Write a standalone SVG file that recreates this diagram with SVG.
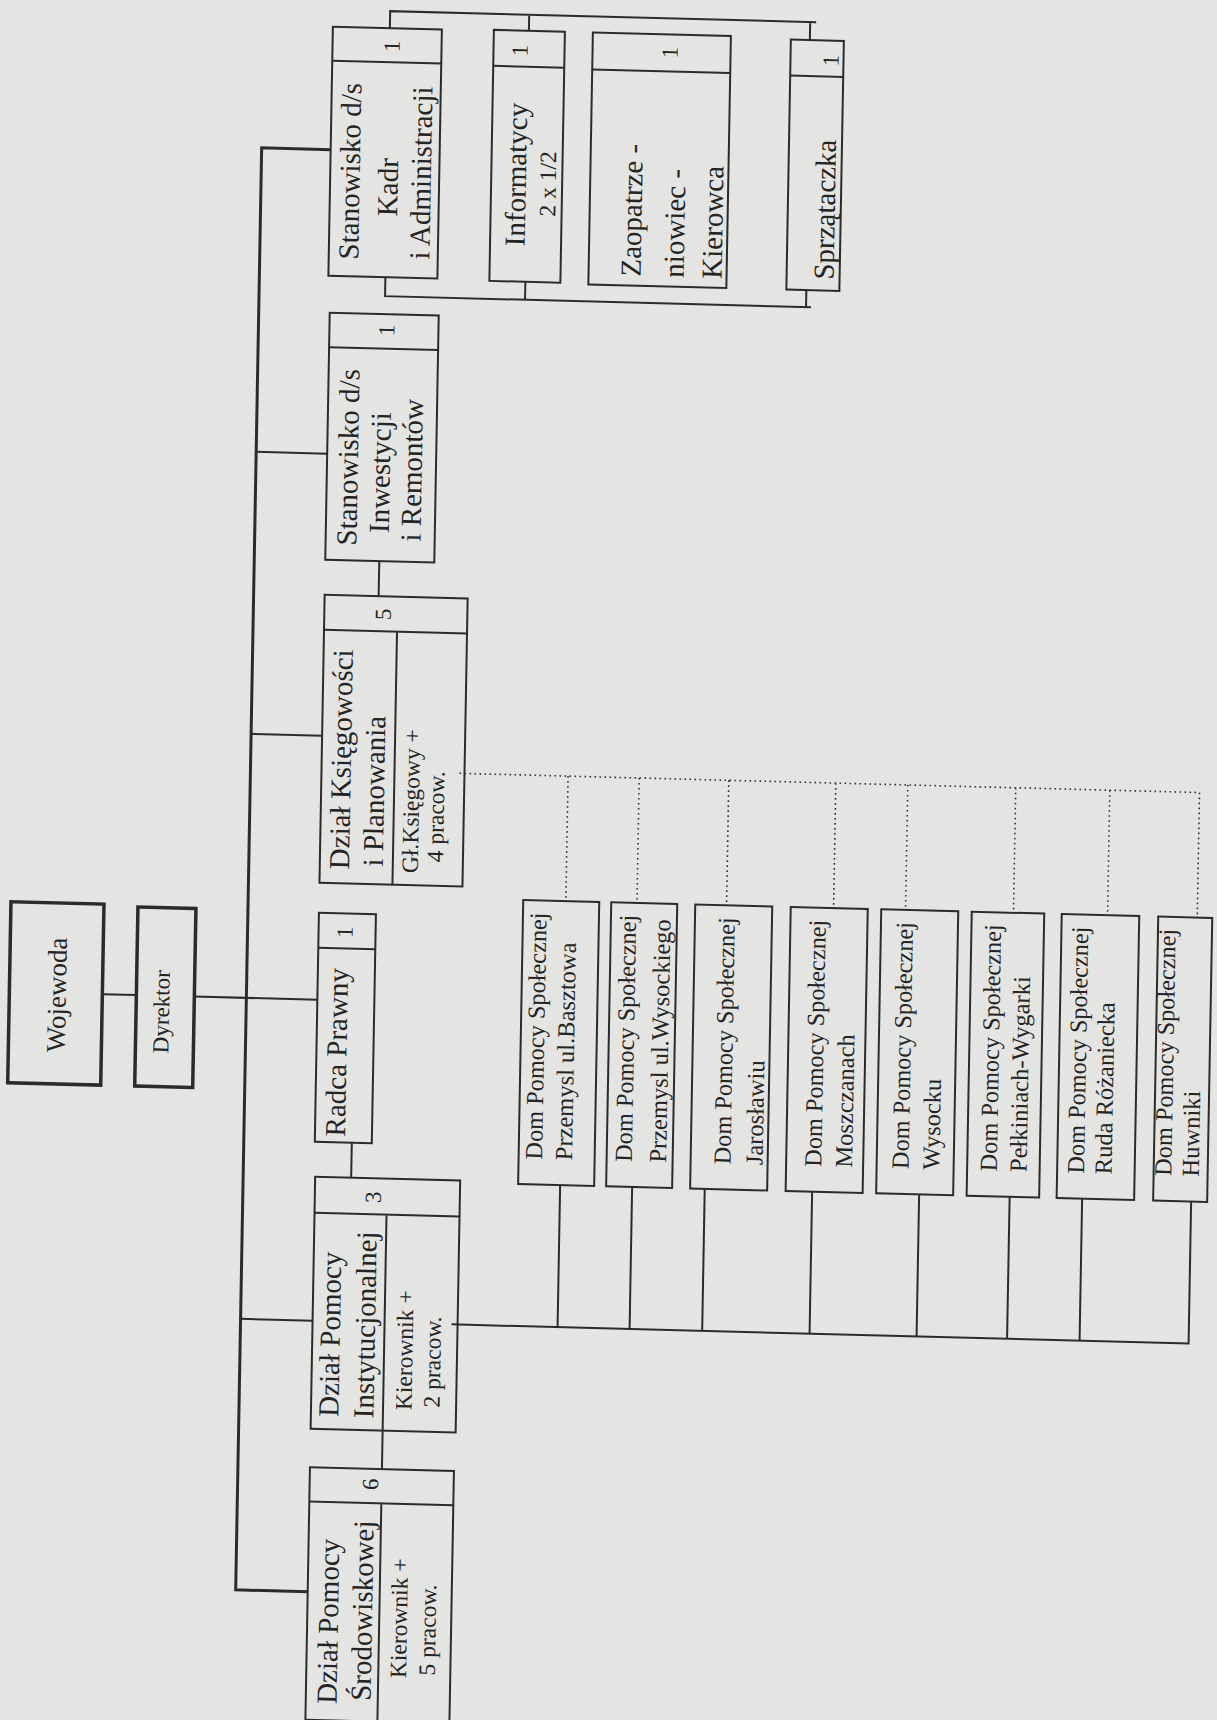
<svg xmlns="http://www.w3.org/2000/svg" width="1217" height="1720" viewBox="0 0 1217 1720">
<style>
.box{fill:none;stroke:#2b2b2b;stroke-width:2}
.thick{stroke-width:3.5}
.ln{fill:none;stroke:#2b2b2b;stroke-width:2}
.spine{stroke-width:3}
.dot{fill:none;stroke:#333;stroke-width:1.6;stroke-dasharray:1.6 3.4}
text{font-family:"Liberation Serif","DejaVu Serif",serif;fill:#242424}
.n{font-size:29px}
.s{font-size:23.5px}
.c{font-size:23px}
.d{font-size:24.5px}
.m{text-anchor:middle}
</style>
<rect width="1217" height="1720" fill="#e4e4e2"/>
<g transform="matrix(1 0.026 -0.018 1 15.48 -15.6)">
<g id="connectors">
<path class="ln" d="M105 1007H139M197 1007H320"/>
<path class="ln spine" d="M318 157H249V1599H321"/>
<path class="ln" d="M249 461H320M249 743H320M249 1328H321M460 1328H1197V1186"/>
<path class="ln" d="M357 1149V1184M374 567V602M393 1436V1474.5"/>
<path class="ln" d="M375 34V17H801M514 17V33M795 17V35"/>
<path class="ln" d="M375 283V302H801M515 284V302M796 285V302"/>
<path class="ln" d="M566 1328V1186M638 1328V1186M710.6 1328V1186M818 1328V1186M925 1328V1186M1015.5 1328V1186M1088 1328V1186"/>
<path class="dot" d="M458 777H1198V902M566.6 777V902M637.7 777V902M727.3 777V902M834.3 777V902M906.3 777V902M1014.2 777V902M1108.3 777V902"/>
</g>
<g id="wojewoda">
<rect class="box thick" x="12" y="917" width="93" height="181"/>
<text class="m" font-size="27" transform="translate(68.5,1009) rotate(-90)">Wojewoda</text>
</g>
<g id="dyrektor">
<rect class="box thick" x="139" y="919" width="58" height="179"/>
<text class="m" font-size="23" transform="translate(172,1023) rotate(-90)">Dyrektor</text>
</g>
<g id="radca">
<rect class="box" x="320" y="920" width="57" height="229"/>
<path class="ln" d="M320 955H377"/>
<text class="c m" transform="translate(354,939) rotate(-90)">1</text>
<text class="n m" transform="translate(350,1059) rotate(-90)">Radca Prawny</text>
</g>
<g id="kadry">
<rect class="box" x="318" y="34" width="109" height="249"/>
<path class="ln" d="M318 68H427"/>
<text class="c m" transform="translate(385,52) rotate(-90)">1</text>
<text class="n m" transform="translate(347.5,178) rotate(-90)">Stanowisko d/s</text>
<text class="n m" transform="translate(385.6,193) rotate(-90)">Kadr</text>
<text class="n m" transform="translate(418.6,178) rotate(-90)">i Administracji</text>
</g>
<g id="informatycy">
<rect class="box" x="479" y="33" width="71" height="251"/>
<path class="ln" d="M479 69H550"/>
<text class="c m" transform="translate(513,53) rotate(-90)">1</text>
<text class="n m" transform="translate(513.6,177) rotate(-90)">Informatycy</text>
<text class="s m" transform="translate(543.6,185.5) rotate(-90)">2 x 1/2</text>
</g>
<g id="zaopatrzeniowiec">
<rect class="box" x="578" y="33" width="138" height="252"/>
<path class="ln" d="M578 70H716"/>
<text class="c m" transform="translate(663,51) rotate(-90)">1</text>
<text class="n" transform="translate(630,276) rotate(-90)">Zaopatrze -</text>
<text class="n" transform="translate(673,276) rotate(-90)">niowiec -</text>
<text class="n" transform="translate(711,276) rotate(-90)">Kierowca</text>
</g>
<g id="sprzataczka">
<rect class="box" x="776" y="35" width="53" height="250"/>
<path class="ln" d="M776 71H829"/>
<text class="c m" transform="translate(824,55) rotate(-90)">1</text>
<text class="n" transform="translate(823,274) rotate(-90)">Sprzątaczka</text>
</g>
<g id="inwestycje">
<rect class="box" x="320" y="320" width="109" height="247"/>
<path class="ln" d="M320 354.5H429"/>
<text class="c m" transform="translate(385,336) rotate(-90)">1</text>
<text class="n m" transform="translate(350.8,464) rotate(-90)">Stanowisko d/s</text>
<text class="n m" transform="translate(383,478.5) rotate(-90)">Inwestycji</text>
<text class="n m" transform="translate(414.8,475.3) rotate(-90)">i Remontów</text>
</g>
<g id="ksiegowosc">
<rect class="box" x="320" y="602" width="143" height="288"/>
<path class="ln" d="M320 637H463M393 637V890"/>
<text class="c m" transform="translate(386.5,620) rotate(-90)">5</text>
<text class="n m" transform="translate(349.2,766) rotate(-90)">Dział Księgowości</text>
<text class="n m" transform="translate(383,797) rotate(-90)">i Planowania</text>
<text class="s m" transform="translate(418,806) rotate(-90)">Gł.Księgowy +</text>
<text class="s m" transform="translate(443,821) rotate(-90)">4 pracow.</text>
</g>
<g id="instytucjonalna">
<rect class="box" x="321" y="1184" width="145" height="252"/>
<path class="ln" d="M321 1220H466M393 1220V1436"/>
<text class="c m" transform="translate(387,1203) rotate(-90)">3</text>
<text class="n m" transform="translate(348.5,1341) rotate(-90)">Dział Pomocy</text>
<text class="n m" transform="translate(383.5,1330.7) rotate(-90)">Instytucjonalnej</text>
<text class="s m" transform="translate(421.4,1355) rotate(-90)">Kierownik +</text>
<text class="s m" transform="translate(449.5,1366) rotate(-90)">2 pracow.</text>
</g>
<g id="srodowiskowa">
<rect class="box" x="321" y="1474.5" width="144" height="252.5"/>
<path class="ln" d="M321 1508.7H465M393 1508.7V1727"/>
<text class="c m" transform="translate(389.5,1490) rotate(-90)">6</text>
<text class="n m" transform="translate(351.7,1628) rotate(-90)">Dział Pomocy</text>
<text class="n m" transform="translate(385.7,1616.5) rotate(-90)">Środowiskowej</text>
<text class="s m" transform="translate(420.7,1623) rotate(-90)">Kierownik +</text>
<text class="s m" transform="translate(449.5,1634) rotate(-90)">5 pracow.</text>
</g>
<g id="dps1">
<rect class="box" x="524" y="902" width="76" height="284"/>
<text class="d" textLength="247" lengthAdjust="spacingAndGlyphs" transform="translate(547.5,1161) rotate(-90)">Dom Pomocy Społecznej</text>
<text class="d" transform="translate(577.4,1161) rotate(-90)">Przemysl ul.Basztowa</text>
</g>
<g id="dps2">
<rect class="box" x="612" y="902" width="66" height="284"/>
<text class="d" textLength="247" lengthAdjust="spacingAndGlyphs" transform="translate(637.1,1161) rotate(-90)">Dom Pomocy Społecznej</text>
<text class="d" transform="translate(671.5,1161) rotate(-90)">Przemysl ul.Wysockiego</text>
</g>
<g id="dps3">
<rect class="box" x="696" y="902" width="77" height="284"/>
<text class="d" textLength="247" lengthAdjust="spacingAndGlyphs" transform="translate(735.8,1161) rotate(-90)">Dom Pomocy Społecznej</text>
<text class="d" transform="translate(767.9,1161) rotate(-90)">Jarosławiu</text>
</g>
<g id="dps4">
<rect class="box" x="791.5" y="902" width="77" height="284"/>
<text class="d" textLength="247" lengthAdjust="spacingAndGlyphs" transform="translate(826.7,1161) rotate(-90)">Dom Pomocy Społecznej</text>
<text class="d" transform="translate(857.5,1161) rotate(-90)">Moszczanach</text>
</g>
<g id="dps5">
<rect class="box" x="882" y="902" width="77" height="284"/>
<text class="d" textLength="247" lengthAdjust="spacingAndGlyphs" transform="translate(913.9,1161) rotate(-90)">Dom Pomocy Społecznej</text>
<text class="d" transform="translate(944.7,1161) rotate(-90)">Wysocku</text>
</g>
<g id="dps6">
<rect class="box" x="972.5" y="902" width="72.5" height="284"/>
<text class="d" textLength="247" lengthAdjust="spacingAndGlyphs" transform="translate(1002.1,1161) rotate(-90)">Dom Pomocy Społecznej</text>
<text class="d" transform="translate(1031.9,1161) rotate(-90)">Pełkiniach-Wygarki</text>
</g>
<g id="dps7">
<rect class="box" x="1062.5" y="902" width="77.5" height="284"/>
<text class="d" textLength="247" lengthAdjust="spacingAndGlyphs" transform="translate(1089.3,1161) rotate(-90)">Dom Pomocy Społecznej</text>
<text class="d" transform="translate(1116.9,1161) rotate(-90)">Ruda Różaniecka</text>
</g>
<g id="dps8">
<rect class="box" x="1159" y="902" width="54" height="284"/>
<text class="d" textLength="247" lengthAdjust="spacingAndGlyphs" transform="translate(1176.6,1161) rotate(-90)">Dom Pomocy Społecznej</text>
<text class="d" transform="translate(1204.1,1161) rotate(-90)">Huwniki</text>
</g>
</g>
</svg>
